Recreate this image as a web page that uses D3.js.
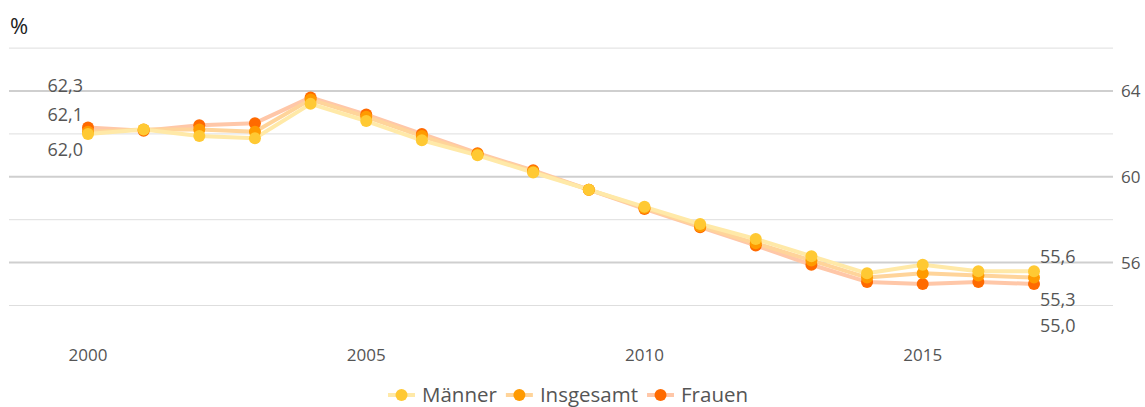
<!DOCTYPE html>
<html>
<head>
<meta charset="utf-8">
<script src="https://cdn.jsdelivr.net/npm/d3@7"></script>
<style>
  body { margin: 0; background: #fff; }
  text { font-family: "Open Sans", "Noto Sans", sans-serif; }
</style>
</head>
<body>
<div id="chart"></div>
<script>
// data
const years = d3.range(2000, 2018)
const maenner =    [62.0, 62.2, 61.9, 61.8, 63.4, 62.6, 61.7, 61.0, 60.2, 59.4, 58.6, 57.8, 57.1, 56.3, 55.5, 55.9, 55.6, 55.6]
const insgesamt =  [62.1, 62.2, 62.2, 62.1, 63.6, 62.8, 61.9, 61.05, 60.25, 59.4, 58.55, 57.7, 56.9, 56.1, 55.3, 55.5, 55.4, 55.3]
const frauen =     [62.3, 62.15, 62.4, 62.5, 63.7, 62.9, 62.0, 61.1, 60.3, 59.4, 58.5, 57.65, 56.8, 55.9, 55.1, 55.0, 55.1, 55.0]
const gridValues = [54, 56, 58, 60, 62, 64, 66]
const tickValues = [56, 60, 64]
const xTicks = [2000, 2005, 2010, 2015]

const series = [
    { name: 'Männer', values: maenner, dot: '#ffc933', line: '#ffe9a8' },
    { name: 'Insgesamt', values: insgesamt, dot: '#ff9a00', line: '#ffd49a' },
    { name: 'Frauen', values: frauen, dot: '#ff6a00', line: '#ffc7a8' },
]

// end labels: which series, which end, offset
const annotations = [
    { s: 2, i: 0, text: '62,3', dy: -42 },
    { s: 1, i: 0, text: '62,1', dy: -17 },
    { s: 0, i: 0, text: '62,0', dy: 16 },
    { s: 0, i: 17, text: '55,6', dy: -14 },
    { s: 1, i: 17, text: '55,3', dy: 22 },
    { s: 2, i: 17, text: '55,0', dy: 42 },
]

const W = 1145, H = 407
const svg = d3.select('#chart').append('svg')
    .attr('width', W).attr('height', H)

const x = d3.scaleLinear().domain([2000, 2017]).range([88, 1034])
const y = d3.scaleLinear().domain([54, 64]).range([305.5, 91])

// grid
svg.append('g').selectAll('line').data(gridValues).join('line')
    .attr('x1', 9).attr('x2', 1113)
    .attr('y1', d => y(d)).attr('y2', d => y(d))
    .attr('stroke', d => tickValues.includes(d) ? '#cfcfcf' : '#dedede')
    .attr('stroke-width', d => tickValues.includes(d) ? 2 : 1)

// right axis labels
svg.append('g').selectAll('text').data(tickValues).join('text')
    .attr('x', 1121).attr('y', d => y(d))
    .attr('dy', '0.35em')
    .attr('font-size', 17).attr('fill', '#555')
    .text(d => d)

// x axis labels
svg.append('g').selectAll('text').data(xTicks).join('text')
    .attr('x', d => x(d)).attr('y', 355)
    .attr('dy', '0.35em')
    .attr('text-anchor', 'middle')
    .attr('font-size', 17).attr('fill', '#555')
    .text(d => d)

svg.append('text')
    .attr('x', 10).attr('y', 34)
    .attr('font-size', 22).attr('fill', '#222')
    .text('%')

const line = d3.line()
    .x((d, i) => x(years[i]))
    .y(d => y(d))

const drawOrder = [2, 1, 0]
svg.append('g').selectAll('path').data(drawOrder.map(k => series[k])).join('path')
    .attr('d', d => line(d.values))
    .attr('fill', 'none')
    .attr('stroke', d => d.line)
    .attr('stroke-width', 4)
    .attr('stroke-linejoin', 'round')

drawOrder.forEach(k => {
    const s = series[k]
    svg.append('g').selectAll('circle').data(s.values).join('circle')
        .attr('cx', (d, i) => x(years[i]))
        .attr('cy', d => y(d))
        .attr('r', 6)
        .attr('fill', s.dot)
})

// end labels
svg.append('g').selectAll('text').data(annotations).join('text')
    .attr('x', d => d.i === 0 ? x(years[d.i]) - 5 : x(years[d.i]) + 6)
    .attr('y', d => y(series[d.s].values[d.i]) + d.dy)
    .attr('dy', '0.35em')
    .attr('text-anchor', d => d.i === 0 ? 'end' : 'start')
    .attr('font-size', 18).attr('fill', '#555')
    .text(d => d.text)

// legend
const legend = svg.append('g')
let lx = 388
series.forEach(s => {
    const g = legend.append('g').attr('transform', 'translate(' + lx + ', 395)')
    g.append('line').attr('x1', 0).attr('x2', 27)
        .attr('stroke', s.line).attr('stroke-width', 4)
    g.append('circle').attr('cx', 13.5).attr('r', 6).attr('fill', s.dot)
    const t = g.append('text').attr('x', 34).attr('dy', '0.35em')
        .attr('font-size', 20.5).attr('fill', '#555')
        .text(s.name)
    lx += 34 + t.node().getComputedTextLength() + 9
})
</script>
</body>
</html>
